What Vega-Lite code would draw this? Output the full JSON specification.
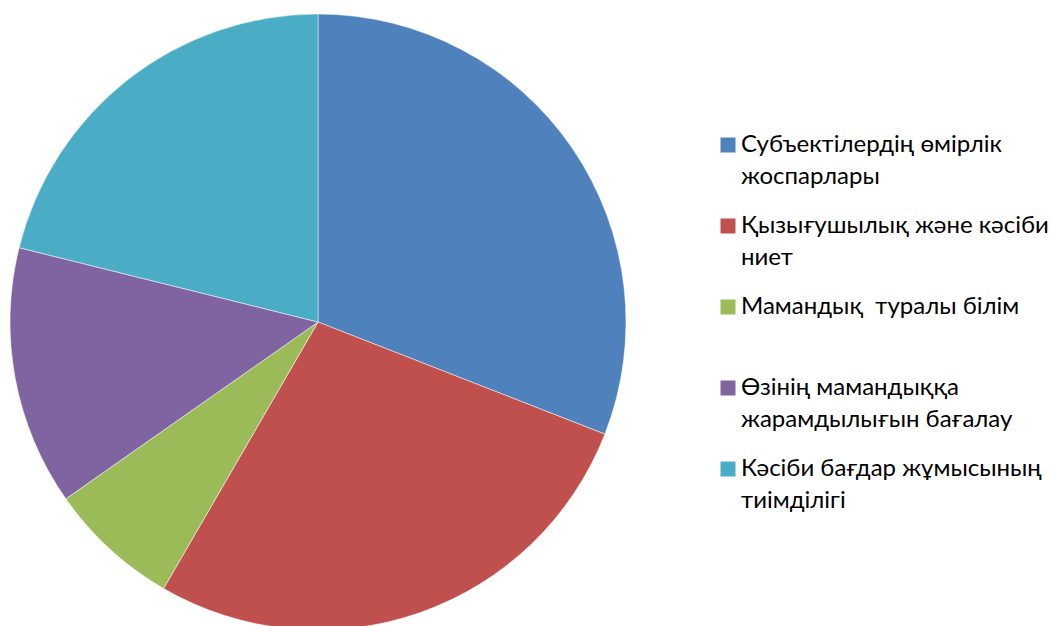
{
  "$schema": "https://vega.github.io/schema/vega-lite/v6.json",
  "width": 636,
  "height": 644,
  "padding": 0,
  "autosize": {"type": "pad"},
  "background": "white",
  "config": {
    "style": {"guide-label": {"lineHeight": 32}}
  },
  "data": {
    "values": [
      {"category": "Субъектілердің өмірлік|жоспарлары", "share": 30.9, "order": 1},
      {"category": "Қызығушылық және кәсіби|ниет", "share": 27.4, "order": 2},
      {"category": "Мамандық\u00a0 туралы білім| ", "share": 6.9, "order": 3},
      {"category": "Өзінің мамандыққа|жарамдылығын бағалау", "share": 13.6, "order": 4},
      {"category": "Кәсіби бағдар жұмысының|тиімділігі", "share": 21.1, "order": 5}
    ]
  },
  "mark": {"type": "arc", "radius": 308, "stroke": "white", "strokeWidth": 0.5},
  "encoding": {
    "theta": {"field": "share", "type": "quantitative", "stack": true},
    "order": {"field": "order", "type": "quantitative"},
    "color": {
      "field": "category",
      "type": "nominal",
      "sort": {"field": "order"},
      "scale": {
        "domain": [
          "Субъектілердің өмірлік|жоспарлары",
          "Қызығушылық және кәсіби|ниет",
          "Мамандық\u00a0 туралы білім| ",
          "Өзінің мамандыққа|жарамдылығын бағалау",
          "Кәсіби бағдар жұмысының|тиімділігі"
        ],
        "range": ["#4F81BD", "#C0504D", "#9BBB59", "#8064A2", "#4BACC6"]
      },
      "legend": {
        "title": null,
        "orient": "none",
        "legendX": 716,
        "legendY": 133,
        "padding": 0,
        "symbolType": "square",
        "symbolSize": 225,
        "symbolStrokeWidth": 0,
        "symbolOffset": 0,
        "labelOffset": 1,
        "labelFont": "Lato",
        "labelFontSize": 24,
        "labelColor": "#000000",
        "labelLimit": 500,
        "labelExpr": "split(datum.label, '|')",
        "rowPadding": 25,
        "encode": {
          "labels": {"update": {"dy": {"value": 16}}}
        }
      }
    }
  }
}
